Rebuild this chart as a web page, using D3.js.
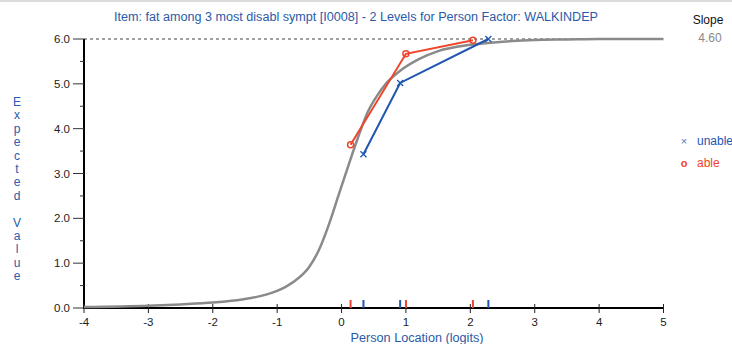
<!DOCTYPE html>
<html>
<head>
<meta charset="utf-8">
<script src="https://cdn.jsdelivr.net/npm/d3@7"></script>
<style>
  html, body { margin: 0; padding: 0; background: #fff; }
  svg { display: block; font-family: "Liberation Sans", Arial, sans-serif; }
</style>
</head>
<body>
<svg id="chart" width="732" height="344"></svg>
<script>
// Expected value curve of the item (model), as location/value pairs
const curveLocation = [-4, -3, -2.5, -2, -1.5, -1.25, -1, -0.75, -0.5, -0.35, -0.2, -0.05, 0.1, 0.25, 0.4, 0.55, 0.7, 0.9, 1.2, 1.5, 2, 2.5, 3, 3.5, 4, 5];
const curveValue    = [0.02, 0.05, 0.08, 0.12, 0.2, 0.27, 0.38, 0.58, 0.92, 1.3, 1.85, 2.5, 3.15, 3.78, 4.35, 4.73, 5.02, 5.28, 5.55, 5.73, 5.87, 5.94, 5.98, 5.99, 6.0, 6.0];

// Observed class means per person-factor level
const levels = ["unable", "able"];
const unableLocation = [0.34, 0.91, 2.28];
const unableValue    = [3.43, 5.02, 6.0];
const ableLocation   = [0.14, 1.0, 2.04];
const ableValue      = [3.64, 5.67, 5.97];

const xTicks = [-4, -3, -2, -1, 0, 1, 2, 3, 4, 5];
const yTicks = [0, 1, 2, 3, 4, 5, 6];
const yMinorTicks = [0.5, 1.5, 2.5, 3.5, 4.5, 5.5];

const title = "Item: fat among 3 most disabl sympt [I0008] - 2 Levels for Person Factor: WALKINDEP";
const slopeLabel = "Slope";
const slopeValue = "4.60";
const xTitle = "Person Location (logits)";
const yTitle = "Expected Value";

const blue = "#1f56b0";
const red = "#f0452a";
const textBlue = "#2a5aa8";

const svg = d3.select("#chart");

const x = d3.scaleLinear().domain([-4, 5]).range([84, 663.5]);
const y = d3.scaleLinear().domain([0, 6]).range([308, 39]);

// thin frame line along the top
svg.append("line").attr("x1", 0).attr("x2", 732).attr("y1", 1).attr("y2", 1)
  .attr("stroke", "#d0d0d0").attr("stroke-width", 1.5);

// title
svg.append("text").attr("x", 356).attr("y", 21).attr("text-anchor", "middle")
  .attr("font-size", 12).attr("textLength", 484).attr("lengthAdjust", "spacingAndGlyphs")
  .attr("fill", textBlue).text(title);

// slope
svg.append("text").attr("x", 708).attr("y", 24).attr("text-anchor", "middle")
  .attr("font-size", 12).attr("fill", "#111").text(slopeLabel);
svg.append("text").attr("x", 710).attr("y", 42).attr("text-anchor", "middle")
  .attr("font-size", 12).attr("fill", "#888").text(slopeValue);

// dotted line at the maximum score
svg.append("line").attr("x1", x(-4)).attr("x2", x(5)).attr("y1", y(6)).attr("y2", y(6))
  .attr("stroke", "#444").attr("stroke-width", 1.2).attr("stroke-dasharray", "3,3");

// y axis
const yAxis = svg.append("g");
yAxis.append("line").attr("x1", x(-4)).attr("x2", x(-4)).attr("y1", y(6)).attr("y2", y(0) + 1)
  .attr("stroke", "#000").attr("stroke-width", 2);
yAxis.selectAll(".ymaj").data(yTicks).join("line")
  .attr("x1", 73).attr("x2", x(-4)).attr("y1", d => y(d)).attr("y2", d => y(d))
  .attr("stroke", "#333").attr("stroke-width", 1);
yAxis.selectAll(".ymin").data(yMinorTicks).join("line")
  .attr("x1", 80).attr("x2", x(-4)).attr("y1", d => y(d)).attr("y2", d => y(d))
  .attr("stroke", "#333").attr("stroke-width", 1);
yAxis.selectAll("text").data(yTicks).join("text")
  .attr("x", 70).attr("y", d => y(d) + 4).attr("text-anchor", "end")
  .attr("font-size", 11.5).attr("fill", "#222").text(d => d.toFixed(1));

// y title, one letter per line
const yChars = yTitle.split("");
svg.append("g").selectAll("text").data(yChars).join("text")
  .attr("x", 17).attr("y", (d, i) => 106 + i * 13.4).attr("text-anchor", "middle")
  .attr("font-size", 12).attr("fill", textBlue).text(d => d);

// x axis
const xAxis = svg.append("g");
xAxis.append("line").attr("x1", x(-4) - 1).attr("x2", x(5)).attr("y1", y(0)).attr("y2", y(0))
  .attr("stroke", "#000").attr("stroke-width", 2);
xAxis.selectAll(".xt").data(xTicks).join("line")
  .attr("x1", d => x(d)).attr("x2", d => x(d)).attr("y1", y(0) - 4).attr("y2", y(0) + 5)
  .attr("stroke", "#222").attr("stroke-width", 1);
xAxis.selectAll("text").data(xTicks).join("text")
  .attr("x", d => x(d)).attr("y", 326).attr("text-anchor", "middle")
  .attr("font-size", 11.5).attr("fill", "#222").text(d => d);

svg.append("text").attr("x", 417).attr("y", 342).attr("text-anchor", "middle")
  .attr("font-size", 12).attr("textLength", 133).attr("lengthAdjust", "spacingAndGlyphs")
  .attr("fill", textBlue).text(xTitle);

// model curve
const curvePts = curveLocation.map((d, i) => [d, curveValue[i]]);
svg.append("path").datum(curvePts)
  .attr("d", d3.line().x(d => x(d[0])).y(d => y(d[1])).curve(d3.curveMonotoneX))
  .attr("fill", "none").attr("stroke", "#8a8a8a").attr("stroke-width", 2.5);

// rug marks on the x axis for class locations
const rug = [
  ...ableLocation.map(d => ({ v: d, c: red })),
  ...unableLocation.map(d => ({ v: d, c: blue }))
];
svg.append("g").selectAll("line").data(rug).join("line")
  .attr("x1", d => x(d.v)).attr("x2", d => x(d.v)).attr("y1", y(0) - 8).attr("y2", y(0))
  .attr("stroke", d => d.c).attr("stroke-width", 2);

// observed means
const lineGen = d3.line().x(d => x(d[0])).y(d => y(d[1]));
const unablePts = unableLocation.map((d, i) => [d, unableValue[i]]);
const ablePts = ableLocation.map((d, i) => [d, ableValue[i]]);

svg.append("path").datum(ablePts).attr("d", lineGen)
  .attr("fill", "none").attr("stroke", red).attr("stroke-width", 2);
svg.append("path").datum(unablePts).attr("d", lineGen)
  .attr("fill", "none").attr("stroke", blue).attr("stroke-width", 2);

// x markers for unable
const xm = svg.append("g");
unablePts.forEach(p => {
  const cx = x(p[0]), cy = y(p[1]);
  xm.append("path").attr("d", `M${cx - 3},${cy - 3}L${cx + 3},${cy + 3}M${cx - 3},${cy + 3}L${cx + 3},${cy - 3}`)
    .attr("stroke", blue).attr("stroke-width", 1.3);
});
// circle markers for able
svg.append("g").selectAll("circle").data(ablePts).join("circle")
  .attr("cx", d => x(d[0])).attr("cy", d => y(d[1])).attr("r", 3)
  .attr("fill", "none").attr("stroke", red).attr("stroke-width", 1.5);

// legend
const legend = svg.append("g");
legend.append("text").attr("x", 684).attr("y", 145).attr("text-anchor", "middle")
  .attr("font-size", 11).attr("fill", "#5577bb").text("×");
legend.append("text").attr("x", 697).attr("y", 145)
  .attr("font-size", 12).attr("fill", blue).text(levels[0]);
legend.append("text").attr("x", 684).attr("y", 167).attr("text-anchor", "middle")
  .attr("font-size", 11).attr("font-weight", "bold").attr("fill", red).text("o");
legend.append("text").attr("x", 697).attr("y", 167)
  .attr("font-size", 12).attr("fill", red).text(levels[1]);
</script>
</body>
</html>
